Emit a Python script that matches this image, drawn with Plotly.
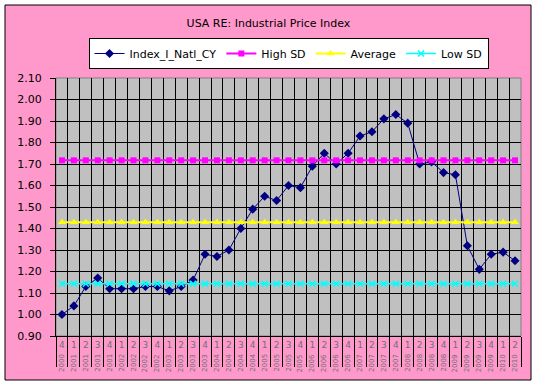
import plotly.graph_objects as go

# ---- data ----
quarters = ["4",
            "1", "2", "3", "4",
            "1", "2", "3", "4",
            "1", "2", "3", "4",
            "1", "2", "3", "4",
            "1", "2", "3", "4",
            "1", "2", "3", "4",
            "1", "2", "3", "4",
            "1", "2", "3", "4",
            "1", "2", "3", "4",
            "1", "2"]
years = ["2000",
         "2001", "2001", "2001", "2001",
         "2002", "2002", "2002", "2002",
         "2003", "2003", "2003", "2003",
         "2004", "2004", "2004", "2004",
         "2005", "2005", "2005", "2005",
         "2006", "2006", "2006", "2006",
         "2007", "2007", "2007", "2007",
         "2008", "2008", "2008", "2008",
         "2009", "2009", "2009", "2009",
         "2010", "2010"]
index_values = [1.00,
                1.04, 1.13, 1.17, 1.12,
                1.12, 1.12, 1.13, 1.13,
                1.11, 1.13, 1.16, 1.28,
                1.27, 1.30, 1.40, 1.49,
                1.55, 1.53, 1.60, 1.59,
                1.69, 1.75, 1.70, 1.75,
                1.83, 1.85, 1.91, 1.93,
                1.89, 1.70, 1.71, 1.66,
                1.65, 1.32, 1.21, 1.28,
                1.29, 1.25]
high_sd_value = 1.717
average_value = 1.429
low_sd_value = 1.143
y_ticks = [0.90, 1.00, 1.10, 1.20, 1.30, 1.40, 1.50, 1.60, 1.70, 1.80, 1.90, 2.00, 2.10]

n = len(index_values)
xs = list(range(n))
high_sd = [high_sd_value] * n
average = [average_value] * n
low_sd = [low_sd_value] * n

FONT = "DejaVu Sans"

fig = go.Figure()
fig.add_trace(go.Scatter(x=xs, y=index_values, name="Index_I_Natl_CY", mode="lines+markers",
                         line=dict(color="#000080", width=1),
                         marker=dict(symbol="diamond", size=7, color="#000080")))
fig.add_trace(go.Scatter(x=xs, y=high_sd, name="High SD", mode="lines+markers",
                         line=dict(color="#FF00FF", width=2),
                         marker=dict(symbol="square", size=6, color="#FF00FF")))
fig.add_trace(go.Scatter(x=xs, y=average, name="Average", mode="lines+markers",
                         line=dict(color="#FFFF00", width=2),
                         marker=dict(symbol="triangle-up", size=7, color="#FFFF00")))
fig.add_trace(go.Scatter(x=xs, y=low_sd, name="Low SD", mode="lines+markers",
                         line=dict(color="#00FFFF", width=1.5),
                         marker=dict(symbol="x-thin", size=6, color="#00FFFF",
                                     line=dict(color="#00FFFF", width=1.5))))

# year labels as second category level (rotated so they do not collide)
for i, yr in enumerate(years):
    fig.add_annotation(x=i, xref="x", y=0, yref="paper", yanchor="middle",
                       yshift=-27, text=yr, showarrow=False, textangle=-90,
                       font=dict(family=FONT, size=7, color="#707070"))

boundaries = [i - 0.5 for i in range(n + 1)]

fig.update_layout(
    width=537, height=385,
    margin=dict(l=56, r=16, t=78, b=49, autoexpand=False),
    paper_bgcolor="white",
    plot_bgcolor="#C0C0C0",
    font=dict(family=FONT, size=11, color="black"),
    title=dict(text="USA RE: Industrial Price Index", x=0.5, xref="container", xanchor="center",
               y=1 - 23 / 385, yanchor="middle", yref="container",
               font=dict(family=FONT, size=11, color="black")),
    showlegend=True,
    legend=dict(orientation="h", x=0.5, xanchor="center", y=1.155, yanchor="top",
                bgcolor="white", bordercolor="black", borderwidth=1,
                font=dict(family=FONT, size=11, color="black"),
                itemwidth=30, tracegroupgap=0),
    shapes=[
        dict(type="rect", xref="paper", yref="paper",
             x0=(5 - 56) / 465, x1=(531 - 56) / 465,
             y0=(336 - 380) / 258, y1=(336 - 5) / 258,
             fillcolor="#FF99CC", line=dict(color="black", width=1), layer="below"),
        dict(type="rect", xref="x domain", yref="y domain", x0=0, x1=1, y0=0, y1=1,
             fillcolor="#C0C0C0", line=dict(color="#808080", width=1), layer="below"),
    ],
)

fig.update_xaxes(
    range=[-0.5, n - 0.5], tickmode="array", tickvals=xs, ticktext=quarters,
    ticks="", showgrid=False, zeroline=False, automargin=False,
    showline=True, linecolor="black", linewidth=1,
    tickfont=dict(family=FONT, size=9, color="#707070"),
    minor=dict(tickmode="array", tickvals=boundaries, ticks="outside", ticklen=30,
               tickcolor="black", tickwidth=1, showgrid=True, gridcolor="black", gridwidth=1),
)
fig.update_yaxes(
    range=[0.9, 2.1], tickmode="array", tickvals=y_ticks,
    ticktext=[f"{v:.2f}" for v in y_ticks],
    ticks="outside", ticklen=5, tickcolor="black", tickwidth=1,
    showgrid=True, gridcolor="black", gridwidth=1, zeroline=False, automargin=False,
    showline=True, linecolor="black", linewidth=1,
    tickfont=dict(family=FONT, size=11, color="black"),
    ticklabelstandoff=6,
)

fig.write_html("out.html", config={"displayModeBar": False},
               post_script="document.body.style.margin='0';document.body.style.padding='0';")
